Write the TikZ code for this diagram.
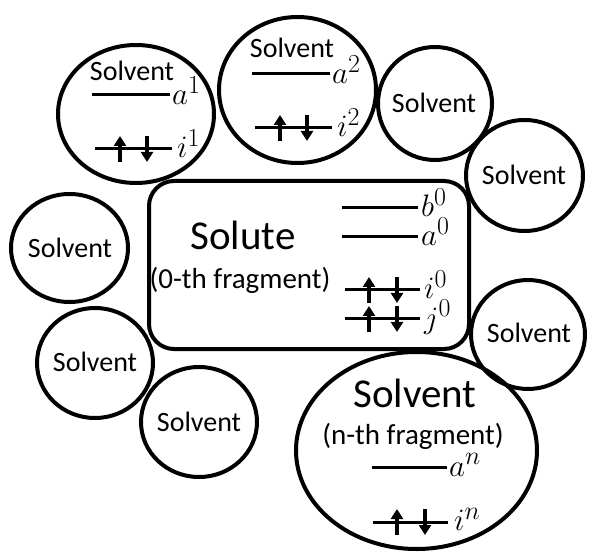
\documentclass[tikz,border=0pt]{standalone}
\usepackage{fontspec}
\setmainfont{Carlito}
\usepackage{graphicx}
\usetikzlibrary{arrows.meta}
\newcommand\spinpair[3]{%
  \draw[spinarrow] (#1,#3+13) -- (#1,#3-13);
  \draw[spinarrow] (#2,#3-13) -- (#2,#3+13);}
\newcommand\mbig[1]{\scalebox{1.25}{$#1$}}
\begin{document}
\begin{tikzpicture}[x=1pt,y=-1pt,
  shapeline/.style={line width=4pt},
  lvl/.style={line width=3pt},
  spinarrow/.style={line width=3.5pt,-{Triangle[width=12pt,length=10pt]}},
  lab/.style={inner sep=0pt,font=\fontsize{28}{30}\selectfont},
  biglab/.style={inner sep=0pt,font=\fontsize{41}{44}\selectfont},
  fraglab/.style={inner sep=0pt,font=\fontsize{29}{32}\selectfont},
  mlab/.style={anchor=base west,inner sep=0pt,font=\fontsize{24.88}{28}\selectfont}]
\useasboundingbox (0,0) rectangle (589,553);

% solvent molecules
\draw[shapeline] (136,114) ellipse [x radius=78, y radius=69];
\draw[shapeline] (297.5,90) ellipse [x radius=78.5, y radius=73];
\draw[shapeline] (435,103.5) ellipse [x radius=57, y radius=56.5];
\draw[shapeline] (524.5,175.5) ellipse [x radius=58.5, y radius=55.5];
\draw[shapeline] (69.5,248) ellipse [x radius=58.5, y radius=54];
\draw[shapeline] (95,363) ellipse [x radius=58, y radius=55];
\draw[shapeline] (199,422) ellipse [x radius=58, y radius=55];
\draw[shapeline] (528,334.5) ellipse [x radius=57, y radius=54.5];
\draw[shapeline] (416.5,450.5) ellipse [x radius=120.5, y radius=98.5];

% solute box
\draw[shapeline,rounded corners=25pt] (149,181) rectangle (469,349);

% circle 1
\node[lab] (s1) at (132,71) {Solvent};
\draw[lvl] (92,95) -- (170,95);
\node[mlab] (a1) at (172,104.5) {\mbig{a^1}};
\draw[lvl] (95,149) -- (172,149);
\spinpair{120}{147}{149}
\node[mlab] (i1) at (177,157.5) {\mbig{i^1}};

% circle 2
\node[lab] (s2) at (292,48) {Solvent};
\draw[lvl] (252,74) -- (330,74);
\node[mlab] (a2) at (332,83.5) {\mbig{a^2}};
\draw[lvl] (255,128) -- (332,128);
\spinpair{280}{307}{128}
\node[mlab] (i2) at (337,136.5) {\mbig{i^2}};

% other solvents
\node[lab] (s3) at (434,103) {Solvent};
\node[lab] (s4) at (524,175) {Solvent};
\node[lab] (s5) at (70,248) {Solvent};
\node[lab] (s6) at (95,362) {Solvent};
\node[lab] (s7) at (199,422) {Solvent};
\node[lab] (s8) at (529,333) {Solvent};

% solute
\node[biglab] (solute) at (243,235) {Solute};
\node[fraglab] (frag0) at (240,280) {(0-th fragment)};
\draw[lvl] (342,208) -- (418,208);
\node[mlab] (b0) at (421,217) {\mbig{b^0}};
\draw[lvl] (342,237) -- (418,237);
\node[mlab] (a0) at (421,246) {\mbig{a^0}};
\draw[lvl] (345,290) -- (420,290);
\node[mlab] (i0) at (424,299) {\mbig{i^0}};
\draw[lvl] (345,319) -- (420,319);
\node[mlab] (j0) at (424,328) {\mbig{j^0}};
\spinpair{369}{397}{290}
\spinpair{369}{397}{319}

% n-th fragment
\node[biglab] (sn) at (415,393) {Solvent};
\node[fraglab] (fragn) at (413,436) {(n-th fragment)};
\draw[lvl] (372,467) -- (447,467);
\node[mlab] (an) at (449,476) {\mbig{a^n}};
\draw[lvl] (373,522) -- (448,522);
\spinpair{397}{425}{522}
\node[mlab] (in) at (454,530.5) {\mbig{i^n}};
\end{tikzpicture}
\end{document}
